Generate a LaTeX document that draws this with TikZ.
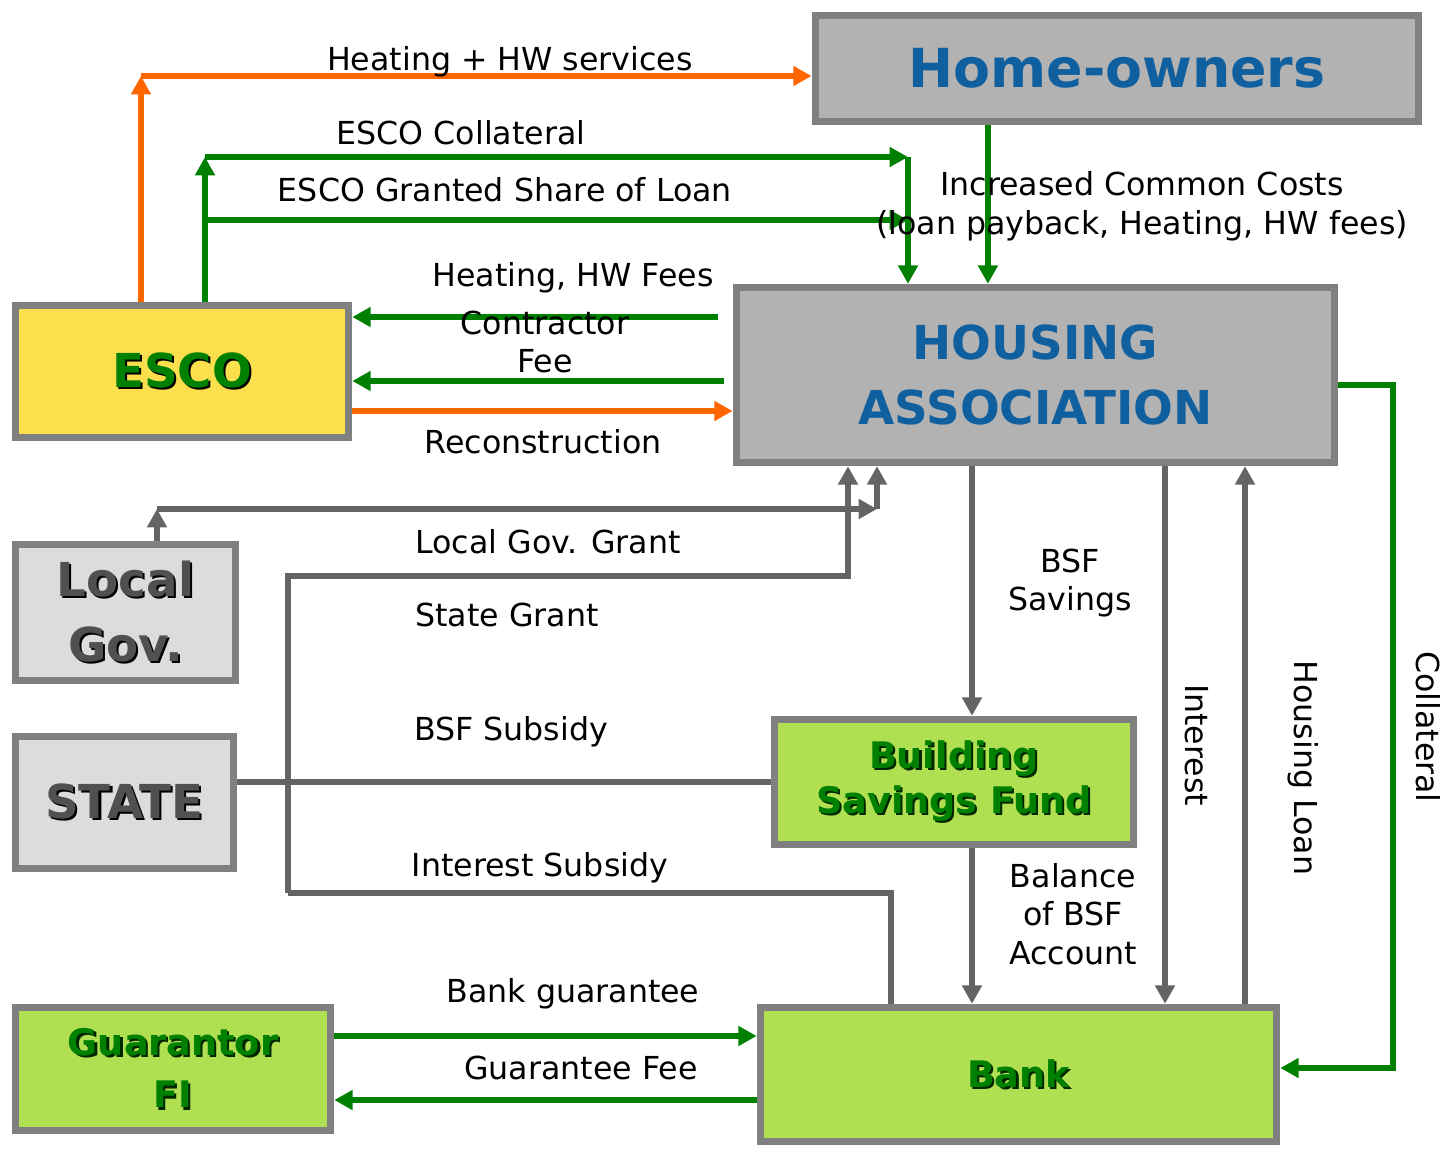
\documentclass[tikz,border=0pt]{standalone}
\usepackage{fontspec}
\setmainfont{DejaVu Sans}
\usetikzlibrary{arrows.meta}
\definecolor{frame}{RGB}{128,128,128}
\definecolor{hagray}{RGB}{178,178,178}
\definecolor{govgray}{RGB}{220,220,220}
\definecolor{govtext}{RGB}{80,80,80}
\definecolor{escoyellow}{RGB}{252,223,76}
\definecolor{fundgreen}{RGB}{176,223,82}
\definecolor{darkgreen}{RGB}{0,128,0}
\definecolor{titleblue}{RGB}{16,96,160}
\definecolor{flowgray}{RGB}{100,100,100}
\definecolor{floworange}{RGB}{255,102,0}
% text with a small dark drop shadow
\newcommand\dropshadow[2]{\leavevmode\rlap{\kern0.6pt\raisebox{-0.6pt}{\color{#1}#2}}#2}
\begin{document}
\begin{tikzpicture}[x=0.01cm,y=-0.01cm,
	>={Triangle[length=5.2pt,width=5.4pt]},
	box/.style={draw=frame,line width=2.1pt,inner sep=0pt,align=center},
	bigtext/.style={font=\fontsize{13.3}{18.5}\selectfont\bfseries},
	smalltext/.style={font=\fontsize{10.4}{12.8}\selectfont\bfseries},
	lbl/.style={font=\fontsize{9}{11}\selectfont,inner sep=0pt,align=center},
	greenflow/.style={draw=darkgreen,line width=1.7pt},
	orangeflow/.style={draw=floworange,line width=1.7pt},
	grayflow/.style={draw=flowgray,line width=1.7pt}]
	\useasboundingbox (0,0) rectangle (1445,1148);
	% parties
	\node[box,fill=hagray,minimum width=6.03cm,minimum height=1.06cm,text=titleblue,font=\fontsize{15.3}{18}\selectfont\bfseries] (home) at (1117,68.5) {Home-owners};
	\node[box,fill=hagray,minimum width=5.98cm,minimum height=1.75cm,text=titleblue,bigtext] (ha) at (1035.5,375) {HOUSING\\ASSOCIATION};
	\node[box,fill=escoyellow,minimum width=3.33cm,minimum height=1.32cm,text=darkgreen,bigtext] (esco) at (182,371.5) {\dropshadow{black}{ESCO}};
	\node[box,fill=govgray,minimum width=2.2cm,minimum height=1.36cm,text=govtext,bigtext] (localgov) at (125.5,612.5) {\dropshadow{black}{Local}\\\dropshadow{black}{Gov.}};
	\node[box,fill=govgray,minimum width=2.18cm,minimum height=1.32cm,text=govtext,bigtext] (state) at (124.5,802.5) {\dropshadow{black}{STATE}};
	\node[box,fill=fundgreen,minimum width=3.59cm,minimum height=1.25cm,text=darkgreen,smalltext] (bsf) at (954,782) {\dropshadow{black!70!darkgreen}{Building}\\\dropshadow{black!70!darkgreen}{Savings Fund}};
	\node[box,fill=fundgreen,minimum width=3.15cm,minimum height=1.23cm,text=darkgreen,font=\fontsize{10.4}{15}\selectfont\bfseries] (guarantor) at (173,1069) {\dropshadow{black!70!darkgreen}{Guarantor}\\\dropshadow{black!70!darkgreen}{FI}};
	\node[box,fill=fundgreen,minimum width=5.16cm,minimum height=1.34cm,text=darkgreen,smalltext] (bank) at (1018.5,1074.5) {\dropshadow{black!70!darkgreen}{Bank}};

	% bends and loose ends
	\coordinate (hwcorner) at (141,76);
	\coordinate (collcorner) at (205,157);
	\coordinate (collend) at (908,157);
	\coordinate (loanstart) at (205,220);
	\coordinate (feesstart) at (718,317);
	\coordinate (feestart) at (724,381);
	\coordinate (lgcorner) at (157,509);
	\coordinate (lgend) at (877,509);
	\coordinate (sgtop) at (848,576);
	\coordinate (sgleft) at (288,576);
	\coordinate (sgbottom) at (288,893);
	\coordinate (isright) at (891,893);
	\coordinate (savx) at (972,600);
	\coordinate (intx) at (1165,700);
	\coordinate (loanx) at (1245,700);
	\coordinate (collx) at (1393,700);

	% ESCO flows
	\draw[orangeflow,->] (esco.north -| hwcorner) -- (hwcorner);
	\draw[orangeflow,->] (hwcorner) -- (home.west |- hwcorner);
	\draw[greenflow,->] (esco.north -| collcorner) -- (collcorner);
	\draw[greenflow,->] (collcorner) -- (collend);
	\draw[greenflow,->] (collend) -- (ha.north -| collend);
	\draw[greenflow,->] (loanstart) -- (loanstart -| collend);
	\draw[greenflow,->] ([xshift=-1.29cm]home.south) -- ([xshift=-1.29cm]home.south |- ha.north);
	\draw[greenflow,->] (feesstart) -- (esco.east |- feesstart);
	\draw[greenflow,->] (feestart) -- (esco.east |- feestart);
	\draw[orangeflow,->] (esco.east |- 0,411) -- (ha.west |- 0,411);

	% public money
	\draw[grayflow,->] (localgov.north -| lgcorner) -- (lgcorner);
	\draw[grayflow,->] (lgcorner) -- (lgend);
	\draw[grayflow,->] (lgend) -- (ha.south -| lgend);
	\draw[grayflow,->] (sgbottom) -- (sgleft) -- (sgtop) -- (ha.south -| sgtop);
	\draw[grayflow] (sgbottom) -- (isright) -- (bank.north -| isright);
	\draw[grayflow] (state.east |- bsf.west) -- (bsf.west);

	% savings and loan
	\draw[grayflow,->] (ha.south -| savx) -- (bsf.north -| savx);
	\draw[grayflow,->] (bsf.south -| savx) -- (bank.north -| savx);
	\draw[grayflow,->] (ha.south -| intx) -- (bank.north -| intx);
	\draw[grayflow,->] (bank.north -| loanx) -- (ha.south -| loanx);
	\draw[greenflow,->] (ha.east |- 0,385) -- (collx |- 0,385) -- (collx |- 0,1068) -- (bank.east |- 0,1068);
	\draw[greenflow,->] (guarantor.east |- 0,1036) -- (bank.west |- 0,1036);
	\draw[greenflow,->] (bank.west |- 0,1100) -- (guarantor.east |- 0,1100);

	% labels
	\node[lbl] (lhw) at (510,62) {Heating + HW services};
	\node[lbl] (lcoll) at (461,133) {ESCO Collateral};
	\node[lbl] (lshare) at (505,190) {ESCO Granted Share of Loan};
	\node[lbl] (lcosts) at (1142,206) {Increased Common Costs\\(loan payback, Heating, HW fees)};
	\node[lbl] (lfees) at (573,278) {Heating, HW Fees};
	\node[lbl] (lcontr) at (545,342) {Contractor\\Fee};
	\node[lbl] (lrecon) at (543,442) {Reconstruction};
	\node[lbl] (llgg) at (548,542) {Local Gov. Grant};
	\node[lbl] (lsg) at (507,615) {State Grant};
	\node[lbl] (lbsfs) at (511,732) {BSF Subsidy};
	\node[lbl] (lis) at (540,868) {Interest Subsidy};
	\node[lbl] (lsav) at (1070,583) {BSF\\Savings};
	\node[lbl] (lbal) at (1073,914) {Balance\\of BSF\\Account};
	\node[lbl,rotate=-90] (lint) at (1197,745) {Interest};
	\node[lbl,rotate=-90] (lloan) at (1303,768) {Housing Loan};
	\node[lbl,rotate=-90] (lcollat) at (1428,727) {Collateral};
	\node[lbl] (lguar) at (573,994) {Bank guarantee};
	\node[lbl] (lgfee) at (581,1068) {Guarantee Fee};
\end{tikzpicture}
\end{document}
